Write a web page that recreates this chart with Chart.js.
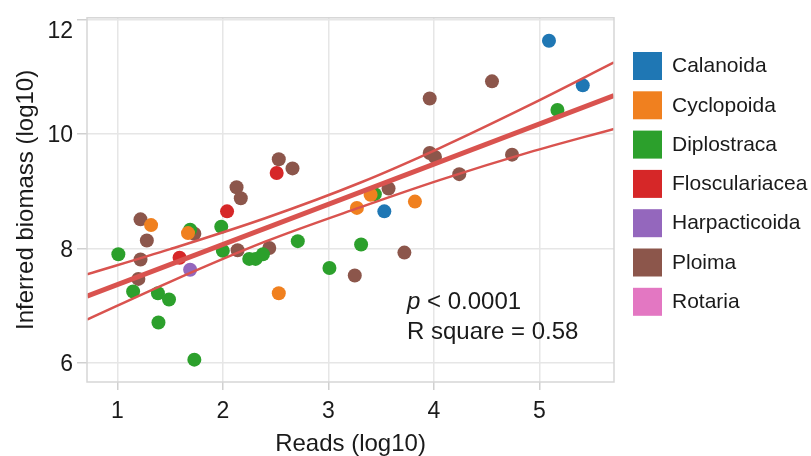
<!DOCTYPE html>
<html>
<head>
<meta charset="utf-8">
<script src="https://cdn.jsdelivr.net/npm/chart.js@4/dist/chart.umd.min.js"></script>
<style>
html,body{margin:0;padding:0;background:#fff;}
canvas{display:block;}
</style>
</head>
<body>
<canvas id="c" width="811" height="456"></canvas>
<script>
// ---- data ----
const groupNames = ["Calanoida","Cyclopoida","Diplostraca","Floscularia" + "cea","Harpacticoida","Ploima","Rotaria"];
const groupColors = ["#1f77b4","#f0801f","#2ca02c","#d62728","#9467bd","#8c564b","#e377c2"];

const calanoidaX = [5.09, 5.41, 3.53];
const calanoidaY = [11.63, 10.85, 8.65];

const cyclopoidaX = [1.32, 1.67, 2.53, 3.27, 3.40, 3.82];
const cyclopoidaY = [8.41, 8.27, 7.22, 8.71, 8.94, 8.82];

const diplostracaX = [1.01, 1.15, 1.385, 1.49, 1.39, 1.73, 1.69, 1.985, 2.00, 2.25, 2.31, 2.38, 2.71, 3.01, 3.31, 3.44, 5.17];
const diplostracaY = [7.90, 7.25, 7.22, 7.11, 6.71, 6.06, 8.33, 8.38, 7.96, 7.82, 7.82, 7.90, 8.13, 7.66, 8.07, 8.95, 10.42];

const floscularX = [1.59, 2.04, 2.51];
const floscularY = [7.84, 8.65, 9.32];

const harpactX = [1.69];
const harpactY = [7.63];

const ploimaX = [1.22, 1.28, 1.22, 1.20, 1.73, 2.13, 2.17, 2.14, 2.53, 2.66, 2.44, 3.57, 3.25, 3.72, 3.96, 4.01, 3.96, 4.55, 4.24, 4.74];
const ploimaY = [8.51, 8.14, 7.81, 7.47, 8.26, 9.07, 8.88, 7.97, 9.56, 9.40, 8.01, 9.05, 7.53, 7.93, 9.67, 9.60, 10.62, 10.92, 9.30, 9.64];

const rotariaX = [];
const rotariaY = [];

// regression line and confidence band, read at these x positions
const fitX = [0.713, 5.706];
const fitY = [7.17, 10.67];
const bandX = [0.713, 1.5, 2.4, 3.3, 4.06, 4.9, 5.706];
const upperY = [7.55, 7.99, 8.53, 9.15, 9.76, 10.50, 11.25];
const lowerY = [6.76, 7.42, 8.12, 8.72, 9.20, 9.68, 10.09];

const xTicks = [1, 2, 3, 4, 5];
const yTicks = [6, 8, 10, 12];
const xRange = [0.713, 5.706];
const yRange = [5.67, 12.03];

// ---- build ----
const pairs = (xs, ys) => xs.map((x, i) => ({x: x, y: ys[i]}));
const groupData = [
  [calanoidaX, calanoidaY],
  [cyclopoidaX, cyclopoidaY],
  [diplostracaX, diplostracaY],
  [floscularX, floscularY],
  [harpactX, harpactY],
  [ploimaX, ploimaY],
  [rotariaX, rotariaY]
];

const lineColor = "#d9534f";
const datasets = [
  {label: "fit", data: pairs(fitX, fitY), showLine: true, borderColor: lineColor, borderWidth: 5, pointRadius: 0, order: 0},
  {label: "upper", data: pairs(bandX, upperY), showLine: true, borderColor: lineColor, borderWidth: 2.5, pointRadius: 0, cubicInterpolationMode: "monotone", order: 0},
  {label: "lower", data: pairs(bandX, lowerY), showLine: true, borderColor: lineColor, borderWidth: 2.5, pointRadius: 0, cubicInterpolationMode: "monotone", order: 0}
];
groupData.forEach((g, i) => {
  datasets.push({
    label: groupNames[i],
    data: pairs(g[0], g[1]),
    backgroundColor: groupColors[i],
    borderColor: groupColors[i],
    borderWidth: 0,
    pointRadius: 7,
    pointHoverRadius: 7,
    order: 1
  });
});

const textColor = "#1a1a1a";
const fontFamily = "'Liberation Sans', Arial, Helvetica, sans-serif";

const decorations = {
  id: "decorations",
  afterDraw(chart) {
    const ctx = chart.ctx;
    const a = chart.chartArea;
    const ys = chart.scales.y;
    ctx.save();
    // panel border
    ctx.strokeStyle = "#d6d6d6";
    ctx.lineWidth = 1.5;
    ctx.strokeRect(a.left, a.top, a.right - a.left, a.bottom - a.top);
    // y tick labels (kept inside the panel's vertical extent)
    ctx.fillStyle = textColor;
    ctx.font = "23px " + fontFamily;
    ctx.textAlign = "right";
    ctx.textBaseline = "middle";
    yTicks.forEach(v => {
      let py = ys.getPixelForValue(v) + 2;
      if (py < a.top + 14) py = a.top + 14;
      ctx.fillText(String(v), a.left - 14, py);
    });
    // annotation
    ctx.textAlign = "left";
    ctx.font = "italic 24px " + fontFamily;
    const ax = a.left + 320;
    ctx.fillText("p", ax, 302);
    const pw = ctx.measureText("p").width;
    ctx.font = "24px " + fontFamily;
    ctx.fillText(" < 0.0001", ax + pw, 302);
    ctx.fillText("R square = 0.58", ax, 332);
    // legend
    ctx.font = "21px " + fontFamily;
    const lx = a.right + 19;
    let ly = 52;
    groupNames.forEach((name, i) => {
      ctx.fillStyle = groupColors[i];
      ctx.fillRect(lx, ly, 29, 28);
      ctx.fillStyle = textColor;
      ctx.fillText(name, lx + 39, ly + 14.5);
      ly += 39.3;
    });
    ctx.restore();
  }
};

new Chart(document.getElementById("c"), {
  type: "scatter",
  data: {datasets: datasets},
  plugins: [decorations],
  options: {
    responsive: false,
    animation: false,
    devicePixelRatio: 1,
    layout: {padding: {top: 13, right: 197, left: 0, bottom: 0}},
    plugins: {legend: {display: false}, tooltip: {enabled: false}},
    elements: {line: {borderCapStyle: "butt"}},
    scales: {
      x: {
        type: "linear",
        min: xRange[0], max: xRange[1],
        afterFit: s => { s.height = 74; },
        afterBuildTicks: s => { s.ticks = xTicks.map(v => ({value: v})); },
        grid: {color: "#e6e6e6", lineWidth: 1.5, tickLength: 8, drawTicks: true, tickColor: "#d0d0d0"},
        border: {display: false},
        ticks: {color: textColor, font: {size: 23, family: fontFamily}, padding: 8, maxRotation: 0,
                callback: v => String(v)},
        title: {display: true, text: "Reads (log10)", color: textColor,
                font: {size: 24, family: fontFamily, lineHeight: 1}, padding: {top: 0, bottom: 0}}
      },
      y: {
        type: "linear",
        min: yRange[0], max: yRange[1],
        afterFit: s => { s.width = 87; },
        afterBuildTicks: s => { s.ticks = yTicks.map(v => ({value: v})); },
        grid: {color: "#e6e6e6", lineWidth: 1.5, tickLength: 10, drawTicks: true, tickColor: "#d0d0d0"},
        border: {display: false},
        ticks: {color: "rgba(0,0,0,0)", font: {size: 23, family: fontFamily}, padding: 4},
        title: {display: true, text: "Inferred biomass (log10)", color: textColor,
                font: {size: 24, family: fontFamily, lineHeight: 1}, padding: {top: 14, bottom: 0}}
      }
    }
  }
});
</script>
</body>
</html>
